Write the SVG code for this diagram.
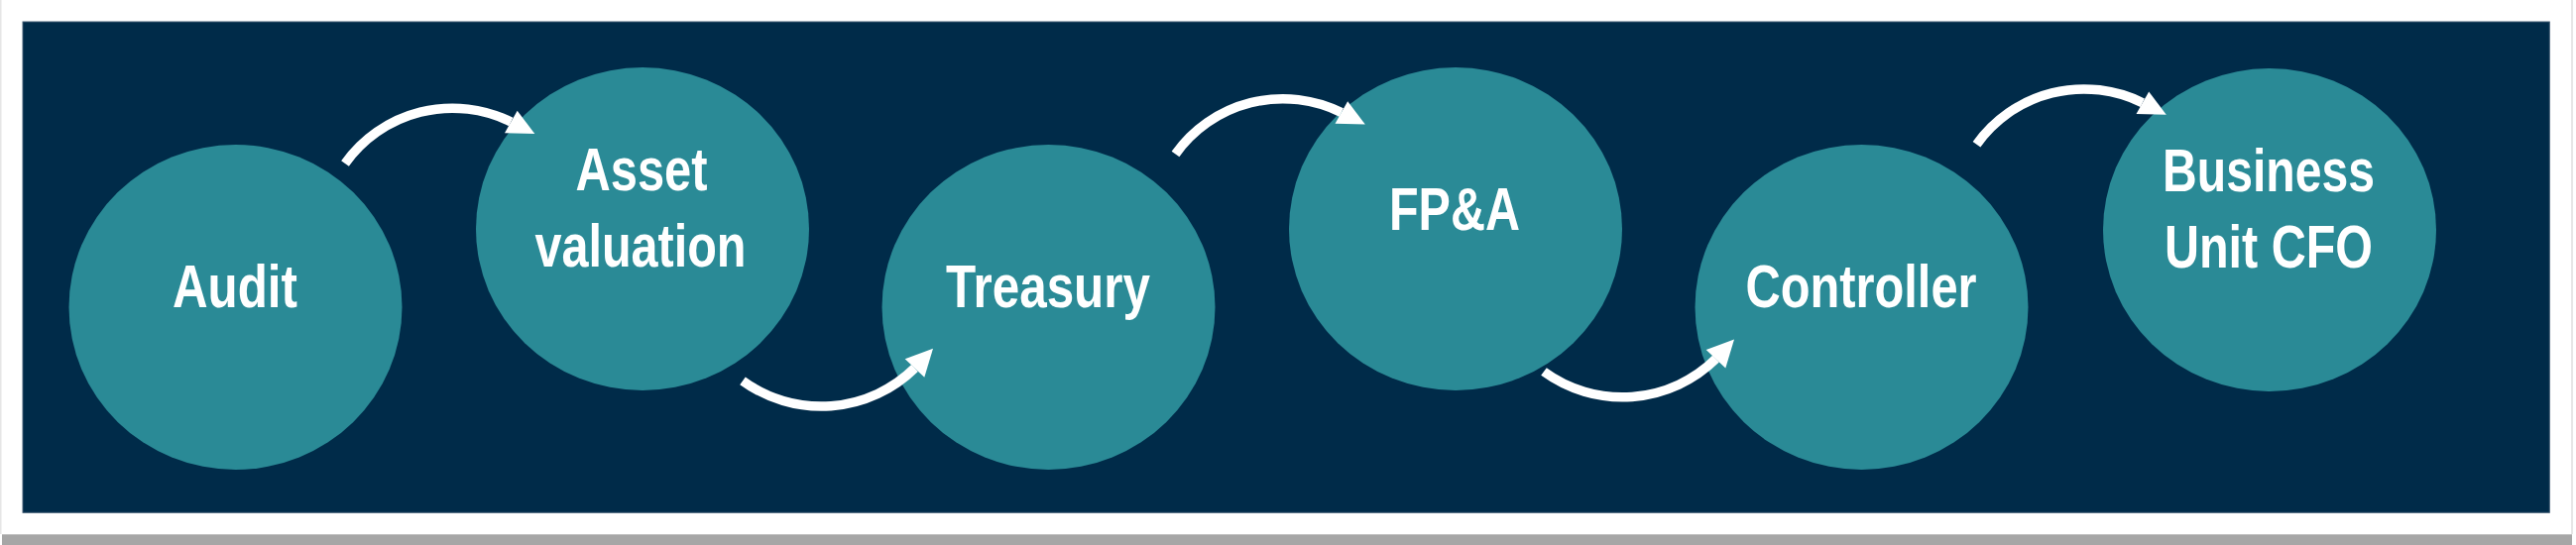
<svg xmlns="http://www.w3.org/2000/svg" width="2598" height="550" viewBox="0 0 2598 550">
  <style>
    .node ellipse { fill: #2A8A96; }
    .node text { fill: #FFFFFF; font-family: "Liberation Sans", Arial, sans-serif; font-weight: bold; font-size: 61px; text-anchor: middle; }
    .arrow path { fill: none; stroke: #FFFFFF; stroke-width: 9.5; stroke-linecap: butt; }
    .arrow polygon { fill: #FFFFFF; stroke: none; }
  </style>
  <defs>
    <g id="arrowTop" class="arrow">
      <path d="M348,165 A133,133 0 0 1 515.3,123" fill="none" stroke="#FFFFFF" stroke-width="9.5"/>
      <polygon points="521.7,111.7 539.3,135 509,134.3" fill="#FFFFFF"/>
    </g>
    <g id="arrowBot" class="arrow">
      <path d="M749,384.3 A134.5,134.5 0 0 0 922.5,371.5" fill="none" stroke="#FFFFFF" stroke-width="9.5"/>
      <polygon points="941,351.7 912.7,362.3 932.3,380.7" fill="#FFFFFF"/>
    </g>
  </defs>
  <rect x="0" y="0" width="2598" height="550" fill="#FFFFFF"/>
  <rect x="0" y="0" width="1.5" height="539" fill="#E6E6E6"/>
  <rect x="2593" y="0" width="2" height="539" fill="#E6E6E6"/>
  <rect x="2" y="539.3" width="2592" height="10.7" fill="#A6A6A6"/>
  <rect x="23" y="22" width="2548.3" height="495.3" fill="#002B49" stroke="#3F5A72" stroke-width="1"/>

  <g id="node-audit" class="node">
    <ellipse cx="237.5" cy="310" rx="168" ry="164"/>
    <text x="237" y="310" textLength="126" lengthAdjust="spacingAndGlyphs">Audit</text>
  </g>
  <g id="node-asset-valuation" class="node">
    <ellipse cx="648" cy="231" rx="168" ry="163"/>
    <text x="647" y="192" textLength="133" lengthAdjust="spacingAndGlyphs">Asset</text>
    <text x="646" y="269" textLength="213" lengthAdjust="spacingAndGlyphs">valuation</text>
  </g>
  <g id="node-treasury" class="node">
    <ellipse cx="1057.5" cy="310" rx="168" ry="164"/>
    <text x="1057" y="310" textLength="206" lengthAdjust="spacingAndGlyphs">Treasury</text>
  </g>
  <g id="node-fpa" class="node">
    <ellipse cx="1468" cy="231" rx="168" ry="163"/>
    <text x="1467" y="232" textLength="132" lengthAdjust="spacingAndGlyphs">FP&amp;A</text>
  </g>
  <g id="node-controller" class="node">
    <ellipse cx="1877.5" cy="310" rx="168" ry="164"/>
    <text x="1877" y="310" textLength="233" lengthAdjust="spacingAndGlyphs">Controller</text>
  </g>
  <g id="node-bu-cfo" class="node">
    <ellipse cx="2289" cy="232" rx="168" ry="163"/>
    <text x="2288" y="193" textLength="214" lengthAdjust="spacingAndGlyphs">Business</text>
    <text x="2288" y="270" textLength="210" lengthAdjust="spacingAndGlyphs">Unit CFO</text>
  </g>

  <g id="connectors">
    <use href="#arrowTop"/>
    <use href="#arrowBot"/>
    <use href="#arrowTop" transform="translate(837.5,-9.5)"/>
    <use href="#arrowBot" transform="translate(808,-9.3)"/>
    <use href="#arrowTop" transform="translate(1645.5,-19.3)"/>
  </g>
</svg>
